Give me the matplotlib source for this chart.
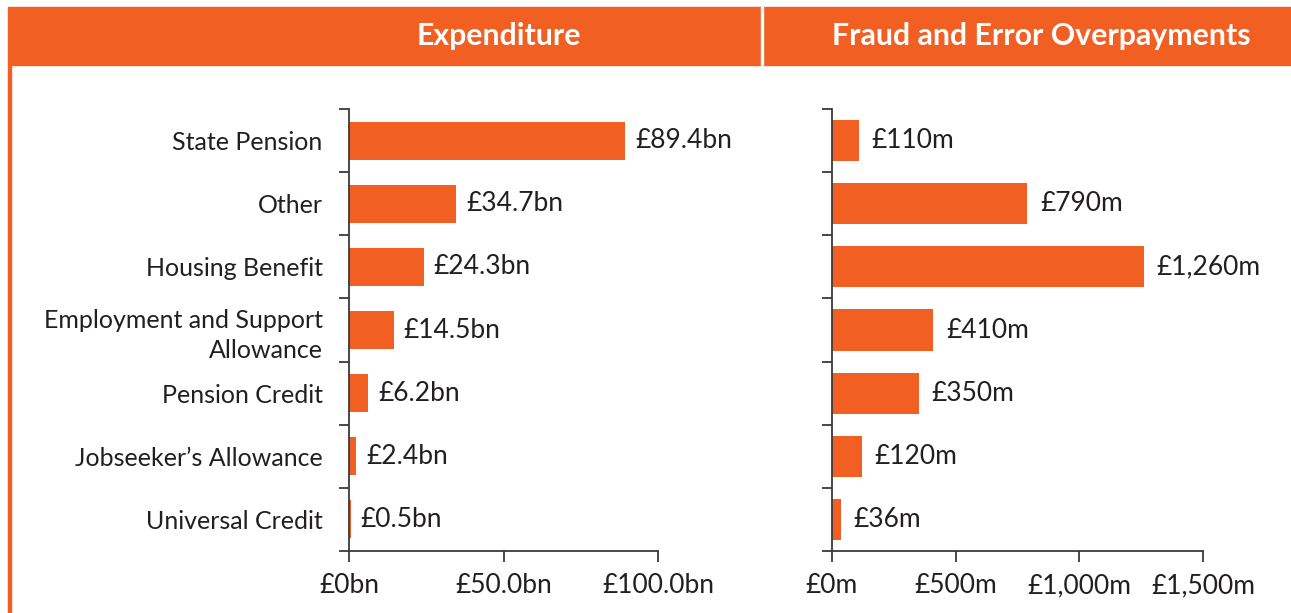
import matplotlib
matplotlib.use("Agg")
import matplotlib.pyplot as plt
from matplotlib.patches import Rectangle
import numpy as np

# Benefit categories, top to bottom
categories = [
    "State Pension",
    "Other",
    "Housing Benefit",
    "Employment and Support\nAllowance",
    "Pension Credit",
    "Jobseeker\u2019s Allowance",
    "Universal Credit",
]

# Expenditure, £ billions
expenditure_bn = [89.4, 34.7, 24.3, 14.5, 6.2, 2.4, 0.5]
expenditure_labels = ["£89.4bn", "£34.7bn", "£24.3bn", "£14.5bn", "£6.2bn", "£2.4bn", "£0.5bn"]

# Fraud and error overpayments, £ millions
overpay_m = [110, 790, 1260, 410, 350, 120, 36]
overpay_labels = ["£110m", "£790m", "£1,260m", "£410m", "£350m", "£120m", "£36m"]

exp_ticks = [0, 50, 100]
exp_ticklabels = ["£0bn", "£50.0bn", "£100.0bn"]
ovp_ticks = [0, 500, 1000, 1500]
ovp_ticklabels = ["£0m", "£500m", "£1,000m", "£1,500m"]

titles = ["Expenditure", "Fraud and Error Overpayments"]

ORANGE = "#F15F22"
TEXT = "#231F20"
AXIS = "#3a3a3a"

plt.rcParams["font.family"] = ["Lato", "DejaVu Sans"]

W, H = 1291, 613
fig = plt.figure(figsize=(W / 100, H / 100), dpi=100)

def fx(px):
    return px / W

def fy(py):
    return 1 - py / H

# Header band and left rule
fig.patches.append(Rectangle((fx(8), fy(65)), fx(W - 8), 58 / H,
                             transform=fig.transFigure, color=ORANGE, zorder=0))
fig.patches.append(Rectangle((fx(8), 0), 2.5 / W, fy(65),
                             transform=fig.transFigure, color=ORANGE, zorder=0))
fig.patches.append(Rectangle((fx(761), fy(65)), 2 / W, 58 / H,
                             transform=fig.transFigure, color="white", zorder=1))

fig.text(fx(499), fy(36), titles[0], color="white", fontsize=21.8,
         fontweight="bold", ha="center", va="center")
fig.text(fx(1041), fy(36), titles[1], color="white", fontsize=21.8,
         fontweight="bold", ha="center", va="center")

ax1 = fig.add_axes([fx(349), fy(551), fx(658 - 349), (551 - 109) / H])
ax2 = fig.add_axes([fx(832), fy(551), fx(1203 - 832), (551 - 109) / H])

y = np.arange(len(categories))

def style(ax, ticks, ticklabels, xmax, show_names):
    ax.set_ylim(len(categories) - 0.5, -0.5)
    ax.set_xlim(0, xmax)
    for s in ("top", "right"):
        ax.spines[s].set_visible(False)
    for s in ("left", "bottom"):
        ax.spines[s].set_color(AXIS)
        ax.spines[s].set_linewidth(1.3)
    ax.set_yticks(y)
    ax.set_yticklabels(categories if show_names else [], linespacing=1.35)
    ax.tick_params(axis="y", which="major", length=0, pad=19,
                   labelsize=18, labelcolor=TEXT)
    ax.set_yticks(np.arange(-0.5, len(categories) + 0.5, 1), minor=True)
    ax.tick_params(axis="y", which="minor", length=7, width=1.3, color=AXIS)
    ax.set_xticks(ticks)
    ax.set_xticklabels(ticklabels)
    ax.tick_params(axis="x", length=8, width=1.3, color=AXIS, pad=8,
                   labelsize=19, labelcolor=TEXT)

bars1 = ax1.barh(y, expenditure_bn, height=0.6, color=ORANGE, zorder=1)
ax1.bar_label(bars1, labels=expenditure_labels, padding=7, fontsize=19, color=TEXT)
style(ax1, exp_ticks, exp_ticklabels, 100, True)

bars2 = ax2.barh(y, overpay_m, height=0.65, color=ORANGE, zorder=1)
ax2.bar_label(bars2, labels=overpay_labels, padding=9, fontsize=19, color=TEXT)
style(ax2, ovp_ticks, ovp_ticklabels, 1500, False)

for ax in (ax1, ax2):
    ax.patch.set_alpha(0)
    for sp in ax.spines.values():
        sp.set_zorder(3)

fig.savefig("out.png", dpi=100, facecolor="white")
